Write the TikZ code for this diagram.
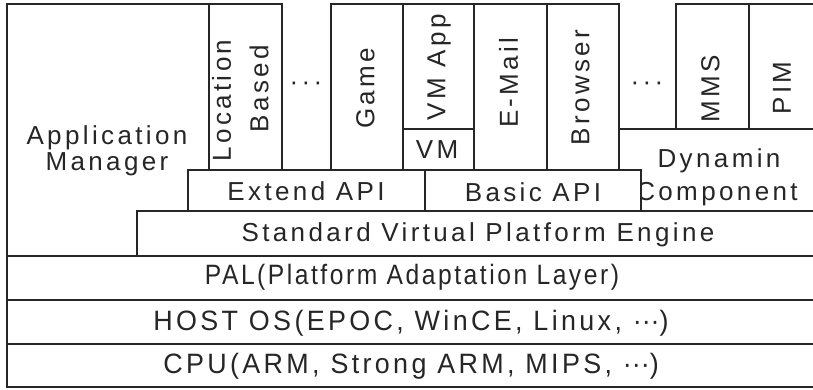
\documentclass[tikz,border=0pt]{standalone}
\usepackage{fontspec}
\setmainfont{Liberation Sans}
% tracked face for the upper layers, condensed ones for the base layers
\newfontfamily\upperfont[LetterSpace=13]{Liberation Sans}
\newfontfamily\lowerfont[LetterSpace=9,FakeStretch=0.88]{Liberation Sans}
\newfontfamily\lowerwidefont[LetterSpace=12,FakeStretch=0.96]{Liberation Sans}
\newcommand{\tightdots}{{\addfontfeature{LetterSpace=0}···}}

\begin{document}
\begin{tikzpicture}[x=1pt,y=-1pt,
  box/.style={draw=black!85, fill=white, line width=1.4pt},
  lbl/.style={font=\upperfont\fontsize{26}{30}\selectfont, text=black!85, anchor=base, inner sep=0pt},
  vlbl/.style={lbl, rotate=90},
  lowlbl/.style={font=\lowerfont\fontsize{28}{32}\selectfont, text=black!85, anchor=base, inner sep=0pt},
  lowwide/.style={lowlbl, font=\lowerwidefont\fontsize{28}{32}\selectfont}]

\useasboundingbox (0,0) rectangle (813,389);
\clip (0,0) rectangle (813,389);

% application manager column
\path[box] (7,4) rectangle (209,256);
\node[lbl] (appA) at (107,144) {Application};
\node[lbl] (appB) at (107,170) {Manager};

% applications on top of the APIs
\path[box] (209,4) rectangle (282,170);
\node[vlbl] (loc1) at (230.8,100.5) {Location};
\node[vlbl] (loc2) at (268.3,88.5) {Based};
\node[lbl] (dots1) at (306,90) {···};

\path[box] (331,4) rectangle (403,170);
\node[vlbl] (game) at (374.3,88.5) {Game};

\path[box] (403,4) rectangle (474,129);
\node[vlbl] (vmapp) at (445.3,67.5) {VM App};
\path[box] (403,129) rectangle (474,170);
\node[lbl] (vm) at (437,158) {VM};

\path[box] (474,4) rectangle (547,170);
\node[vlbl] (email) at (517.8,82.5) {E-Mail};

\path[box] (547,4) rectangle (619,170);
\node[vlbl] (browser) at (589.3,87.5) {Browser};

\node[lbl] (dots2) at (647,90) {···};

\path[box] (676,4) rectangle (749,129);
\node[vlbl] (mms) at (719.3,88.5) {MMS};
\path[box] (749,4) rectangle (821,129);
\node[vlbl] (pim) at (790.8,88) {PIM};

% dynamic component, partly covered by the basic API
\path[box] (619,129) rectangle (821,211);
\node[lbl] (dyn1) at (719,167) {Dynamin};
\node[lbl] (dyn2) at (717,200) {Component};

% API layer
\path[box] (188,170) rectangle (425,211);
\node[lbl] (extapi) at (306,200) {Extend API};
\path[box] (425,170) rectangle (641,211);
\node[lbl] (basapi) at (533,201) {Basic API};

% engine and platform layers
\path[box] (137,211) rectangle (821,256);
\node[lbl] (svpe) at (478,241) {Standard Virtual Platform Engine};

\path[box] (7,256) rectangle (821,300);
\node[lowlbl] (pal) at (412,284) {PAL(Platform Adaptation Layer)};

\path[box] (7,300) rectangle (821,344);
\node[lowwide] (host) at (411,330) {HOST OS(EPOC, WinCE, Linux, \tightdots)};

\path[box] (7,344) rectangle (821,387);
\node[lowwide] (cpu) at (411,373) {CPU(ARM, Strong ARM, MIPS, \tightdots)};

\end{tikzpicture}
\end{document}
